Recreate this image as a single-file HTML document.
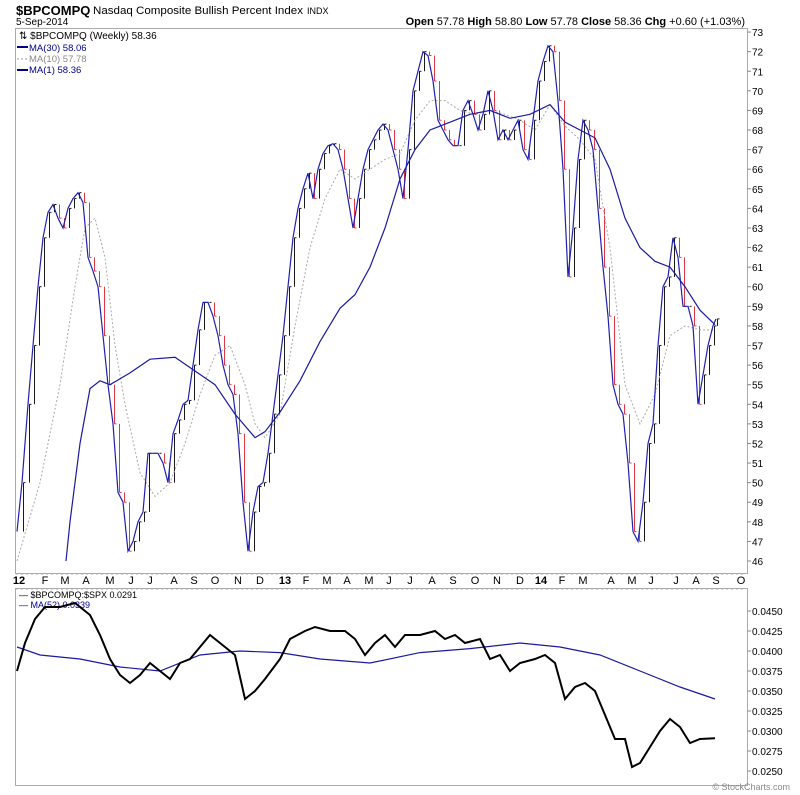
<!DOCTYPE html>
<html><head><meta charset="utf-8"><style>
body{margin:0;background:#fff;width:800px;height:795px;overflow:hidden;font-family:"Liberation Sans",sans-serif}
svg{position:absolute;left:0;top:0}
</style></head><body>
<svg id="s" width="800" height="795" xmlns="http://www.w3.org/2000/svg" font-family="Liberation Sans, sans-serif">
<text x="16" y="15" font-size="13" font-weight="bold">$BPCOMPQ</text>
<text x="93" y="14" font-size="11" textLength="210" lengthAdjust="spacingAndGlyphs">Nasdaq Composite Bullish Percent Index</text>
<text x="307" y="14" font-size="9">INDX</text>
<text x="16" y="25" font-size="10">5-Sep-2014</text>
<text x="745" y="25" font-size="11" text-anchor="end"><tspan font-weight="bold">Open</tspan> 57.78  <tspan font-weight="bold">High</tspan> 58.80  <tspan font-weight="bold">Low</tspan> 57.78  <tspan font-weight="bold">Close</tspan> 58.36  <tspan font-weight="bold">Chg</tspan> +0.60 (+1.03%)</text>
<rect x="15.5" y="28.5" width="732" height="545" fill="none" stroke="#aaa"/>
<rect x="15.5" y="588.5" width="732" height="197" fill="none" stroke="#aaa"/>
<text x="19" y="39" font-size="10">⇅ $BPCOMPQ (Weekly) 58.36</text>
<line x1="17" y1="47" x2="28" y2="47" stroke="#00008b" stroke-width="2"/><text x="29" y="51" font-size="9.5" fill="#00008b">MA(30) 58.06</text>
<line x1="17" y1="59" x2="28" y2="59" stroke="#999" stroke-dasharray="2,2"/><text x="29" y="62" font-size="9.5" fill="#888">MA(10) 57.78</text>
<line x1="17" y1="70" x2="28" y2="70" stroke="#00008b" stroke-width="2"/><text x="29" y="73" font-size="9.5" fill="#00008b">MA(1) 58.36</text>
<text x="19" y="598" font-size="9">— $BPCOMPQ:$SPX 0.0291</text>
<text x="19" y="608" font-size="9" fill="#00008b">— MA(52) 0.0339</text>
<g id="g"></g>
</svg>
<script>
var g=document.getElementById('g'),h='';
function Y(v){return 561-(v-46)*19.59}
function Y2(v){return 611+(0.045-v)*8000}
for(var v=46;v<=73;v++){var y=Y(v);h+='<line x1="747" x2="751" y1="'+y+'" y2="'+y+'" stroke="#888"/><text x="752" y="'+(y+4)+'" font-size="10">'+v+'</text>';}
for(var i=0;i<=8;i++){var v=0.045-i*0.0025,y=Y2(v);h+='<line x1="747" x2="751" y1="'+y+'" y2="'+y+'" stroke="#888"/><text x="752" y="'+(y+4)+'" font-size="10">'+v.toFixed(4)+'</text>';}
var L=[[19,'12',1],[45,'F'],[65,'M'],[86,'A'],[110,'M'],[131,'J'],[150,'J'],[174,'A'],[194,'S'],[215,'O'],[238,'N'],[260,'D'],[285,'13',1],[306,'F'],[327,'M'],[347,'A'],[369,'M'],[389,'J'],[410,'J'],[432,'A'],[453,'S'],[475,'O'],[497,'N'],[520,'D'],[541,'14',1],[562,'F'],[583,'M'],[611,'A'],[632,'M'],[651,'J'],[676,'J'],[696,'A'],[716,'S'],[741,'O']];
L.forEach(function(a){h+='<text x="'+a[0]+'" y="584" font-size="11" text-anchor="middle"'+(a[2]?' font-weight="bold"':'')+'>'+a[1]+'</text>';});
for(var x=17;x<747;x+=5){h+='<line x1="'+x+'" x2="'+x+'" y1="573" y2="575" stroke="#aaa"/><line x1="'+x+'" x2="'+x+'" y1="588" y2="590" stroke="#aaa"/>';}
var P=[[17,47.5],[22,50],[28,54],[33,57],[38,60],[43,62.5],[48,63.8],[53,64.2],[58,63.5],[63,63],[68,64],[73,64.5],[78,64.8],[83,64.3],[88,61.5],[93,60.8],[98,60],[103,57.5],[108,55],[113,53],[118,49.5],[123,49],[128,46.5],[133,47],[138,48],[143,48.5],[148,51.5],[153,51.5],[158,51.5],[163,51],[168,50],[173,52.5],[178,53.2],[183,54],[188,54.2],[193,56],[198,57.8],[203,59.2],[208,59.2],[213,58.5],[218,57.5],[223,56],[228,55],[233,54.5],[238,52.5],[243,49],[248,46.5],[253,48.5],[258,49.8],[263,50],[268,51.5],[273,53.5],[278,55.5],[283,57.5],[288,60],[293,62.5],[298,64],[303,65],[308,65.8],[313,64.5],[318,66],[323,66.8],[328,67.2],[333,67.3],[338,67],[343,66],[348,64.5],[353,63],[358,64.5],[363,66],[368,67],[373,67.5],[378,68],[383,68.3],[388,68],[393,67],[398,66],[403,64.5],[408,67],[413,70],[418,71],[423,72],[428,71.8],[433,70.5],[438,68.5],[443,68],[448,67.5],[453,67.2],[458,67.2],[463,69],[468,69.5],[473,68.8],[478,68],[483,68.8],[488,70],[493,69],[498,67.5],[503,68],[508,67.5],[513,68],[518,68.5],[523,67],[528,66.5],[533,68.5],[538,70.5],[543,71.5],[548,72.3],[553,72],[558,69.5],[563,66],[568,60.5],[573,63],[578,66.5],[583,68.5],[588,68],[593,67],[598,64],[603,61],[608,58.5],[613,55],[618,54],[623,53.5],[628,51],[633,47.5],[638,47],[643,49],[648,52],[653,53],[658,57],[663,60],[668,60.5],[673,62.5],[678,61.5],[683,59],[688,59],[693,58],[698,54],[703,55.5],[708,57],[713,58],[716,58.36]];
var M30=[[66,46],[70,48],[80,52],[90,54.8],[100,55.2],[110,55],[130,55.6],[150,56.3],[175,56.4],[195,55.7],[215,55],[235,53.5],[255,52.3],[265,52.6],[280,53.6],[300,55.2],[320,57.2],[340,58.9],[355,59.6],[370,61],[385,63],[400,65.5],[415,67],[430,68],[450,68.4],[470,68.8],[490,69],[510,68.6],[530,68.8],[550,69.3],[565,68.4],[580,68],[595,67.6],[610,66],[625,63.5],[640,62],[655,61.3],[670,61],[685,60],[700,58.8],[715,58.06]];
var M10=[[17,46],[40,50],[60,55],[75,60],[85,63],[95,63.5],[105,61.5],[115,57],[125,54],[140,50.5],[155,49.3],[170,50],[185,52],[200,54.5],[215,56.5],[230,57],[245,55],[255,53],[265,52.3],[280,53.5],[295,58],[310,62],[325,64.5],[340,66],[355,65.5],[370,66],[385,66.5],[400,66.8],[415,68.5],[430,69.5],[445,69.5],[460,69],[475,68.8],[490,69],[505,68.8],[520,68.5],[535,68],[550,69.3],[565,68.2],[580,67.5],[595,66.5],[610,62],[625,55],[640,53],[655,54.5],[670,57.5],[685,58],[700,57.8],[715,57.78]];
var B=[[17,0.0375],[25,0.041],[35,0.044],[45,0.0455],[60,0.0455],[75,0.046],[90,0.0445],[100,0.042],[110,0.039],[120,0.037],[130,0.036],[140,0.037],[150,0.0385],[160,0.0375],[170,0.0365],[180,0.0385],[190,0.039],[200,0.0405],[210,0.042],[220,0.041],[235,0.0395],[245,0.034],[255,0.035],[265,0.0365],[280,0.039],[290,0.0415],[305,0.0425],[315,0.043],[330,0.0425],[345,0.0425],[355,0.0415],[365,0.0395],[375,0.041],[385,0.042],[395,0.0405],[405,0.042],[420,0.042],[435,0.0425],[445,0.0415],[455,0.042],[465,0.041],[480,0.0415],[490,0.039],[500,0.0395],[510,0.0375],[520,0.0385],[535,0.039],[545,0.0395],[555,0.0385],[565,0.034],[575,0.0355],[585,0.036],[595,0.035],[605,0.032],[615,0.029],[625,0.029],[632,0.0255],[640,0.026],[650,0.028],[660,0.030],[670,0.0315],[680,0.0305],[690,0.0285],[700,0.029],[715,0.0291]];
var M52=[[17,0.0405],[40,0.0395],[80,0.039],[120,0.038],[160,0.0375],[200,0.0395],[240,0.04],[280,0.0398],[320,0.039],[370,0.0385],[420,0.0398],[470,0.0403],[520,0.041],[560,0.0405],[600,0.0395],[640,0.0375],[680,0.0355],[715,0.034]];
function pl(a,f,st){return '<polyline fill="none" '+st+' points="'+a.map(function(p){return p[0]+','+f(p[1]).toFixed(1)}).join(' ')+'"/>';}
for(var i=1;i<P.length;i++){var a=P[i-1][1],b=P[i][1],x=P[i][0]+1.5,c=b>=a?'#000':'#e02030';h+='<line x1="'+x+'" x2="'+x+'" y1="'+Y(Math.max(a,b))+'" y2="'+Y(Math.min(a,b))+'" stroke="'+c+'" stroke-width="0.9"/><line x1="'+x+'" x2="'+(x+2)+'" y1="'+Y(b)+'" y2="'+Y(b)+'" stroke="'+c+'" stroke-width="0.9"/>';}
h+=pl(M10,Y,'stroke="#aaa" stroke-dasharray="2,2"');
h+=pl(M30,Y,'stroke="#1a1aa0" stroke-width="1.2"');
h+=pl(P,Y,'stroke="#2020b0" stroke-width="1.2"');
h+=pl(M52,Y2,'stroke="#1a1aa0" stroke-width="1.2"');
h+='<clipPath id="c"><rect x="16" y="589" width="731" height="196"/></clipPath><g clip-path="url(#c)">'+pl(B,Y2,'stroke="#000" stroke-width="2"')+'</g>';
h+='<text x="790" y="790" font-size="9" fill="#888" text-anchor="end">© StockCharts.com</text>';
g.innerHTML=h;
</script>
</body></html>
